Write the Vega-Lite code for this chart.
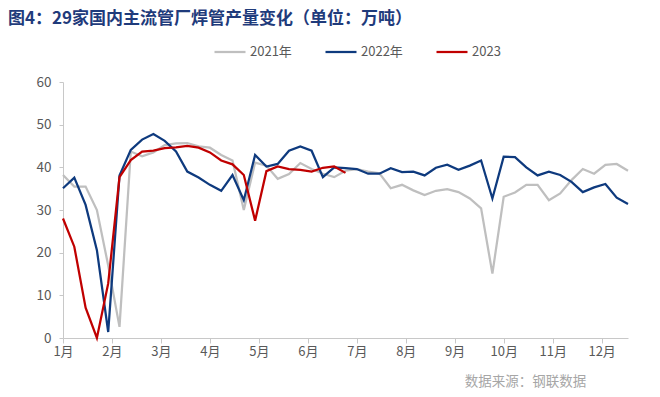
{
  "$schema": "https://vega.github.io/schema/vega-lite/v6.json",
  "width": 565,
  "height": 256,
  "autosize": {"type": "none"},
  "padding": {"left": 63, "top": 82, "right": 32, "bottom": 59},
  "background": "white",
  "title": {
    "text": "图4：29家国内主流管厂焊管产量变化（单位：万吨）",
    "anchor": "start",
    "frame": "group",
    "dx": -55,
    "offset": 7,
    "font": "Noto Sans CJK SC",
    "fontSize": 17,
    "fontWeight": "bold",
    "color": "#1F3B7B"
  },
  "config": {"view": {"stroke": null}, "font": "Noto Sans CJK SC"},
  "data": {
    "values": [
      {"s": "2021年", "w": 0, "v": 38.2}, {"s": "2021年", "w": 1, "v": 35.5}, {"s": "2021年", "w": 2, "v": 35.5}, {"s": "2021年", "w": 3, "v": 30.0},
      {"s": "2021年", "w": 4, "v": 17.0}, {"s": "2021年", "w": 5, "v": 2.6}, {"s": "2021年", "w": 6, "v": 43.7}, {"s": "2021年", "w": 7, "v": 42.6},
      {"s": "2021年", "w": 8, "v": 43.5}, {"s": "2021年", "w": 9, "v": 45.2}, {"s": "2021年", "w": 10, "v": 45.6}, {"s": "2021年", "w": 11, "v": 45.7},
      {"s": "2021年", "w": 12, "v": 44.9}, {"s": "2021年", "w": 13, "v": 44.6}, {"s": "2021年", "w": 14, "v": 42.9}, {"s": "2021年", "w": 15, "v": 41.6},
      {"s": "2021年", "w": 16, "v": 30.0}, {"s": "2021年", "w": 17, "v": 41.1}, {"s": "2021年", "w": 18, "v": 40.4}, {"s": "2021年", "w": 19, "v": 37.3},
      {"s": "2021年", "w": 20, "v": 38.4}, {"s": "2021年", "w": 21, "v": 41.0}, {"s": "2021年", "w": 22, "v": 39.6}, {"s": "2021年", "w": 23, "v": 38.5},
      {"s": "2021年", "w": 24, "v": 37.7}, {"s": "2021年", "w": 25, "v": 39.2}, {"s": "2021年", "w": 26, "v": 39.6}, {"s": "2021年", "w": 27, "v": 39.0},
      {"s": "2021年", "w": 28, "v": 38.6}, {"s": "2021年", "w": 29, "v": 35.1}, {"s": "2021年", "w": 30, "v": 35.9}, {"s": "2021年", "w": 31, "v": 34.6},
      {"s": "2021年", "w": 32, "v": 33.5}, {"s": "2021年", "w": 33, "v": 34.5}, {"s": "2021年", "w": 34, "v": 34.9}, {"s": "2021年", "w": 35, "v": 34.2},
      {"s": "2021年", "w": 36, "v": 32.7}, {"s": "2021年", "w": 37, "v": 30.4}, {"s": "2021年", "w": 38, "v": 15.1}, {"s": "2021年", "w": 39, "v": 33.1},
      {"s": "2021年", "w": 40, "v": 34.1}, {"s": "2021年", "w": 41, "v": 35.9}, {"s": "2021年", "w": 42, "v": 35.9}, {"s": "2021年", "w": 43, "v": 32.3},
      {"s": "2021年", "w": 44, "v": 33.9}, {"s": "2021年", "w": 45, "v": 37.0}, {"s": "2021年", "w": 46, "v": 39.6}, {"s": "2021年", "w": 47, "v": 38.5},
      {"s": "2021年", "w": 48, "v": 40.6}, {"s": "2021年", "w": 49, "v": 40.8}, {"s": "2021年", "w": 50, "v": 39.2},
      {"s": "2022年", "w": 0, "v": 35.1}, {"s": "2022年", "w": 1, "v": 37.6}, {"s": "2022年", "w": 2, "v": 31.2}, {"s": "2022年", "w": 3, "v": 20.6},
      {"s": "2022年", "w": 4, "v": 1.4}, {"s": "2022年", "w": 5, "v": 38.1}, {"s": "2022年", "w": 6, "v": 44.1}, {"s": "2022年", "w": 7, "v": 46.5},
      {"s": "2022年", "w": 8, "v": 47.8}, {"s": "2022年", "w": 9, "v": 46.2}, {"s": "2022年", "w": 10, "v": 43.7}, {"s": "2022年", "w": 11, "v": 39.0},
      {"s": "2022年", "w": 12, "v": 37.6}, {"s": "2022年", "w": 13, "v": 35.9}, {"s": "2022年", "w": 14, "v": 34.5}, {"s": "2022年", "w": 15, "v": 38.2},
      {"s": "2022年", "w": 16, "v": 32.3}, {"s": "2022年", "w": 17, "v": 42.9}, {"s": "2022年", "w": 18, "v": 40.2}, {"s": "2022年", "w": 19, "v": 40.8},
      {"s": "2022年", "w": 20, "v": 43.9}, {"s": "2022年", "w": 21, "v": 44.9}, {"s": "2022年", "w": 22, "v": 43.9}, {"s": "2022年", "w": 23, "v": 37.7},
      {"s": "2022年", "w": 24, "v": 40.0}, {"s": "2022年", "w": 25, "v": 39.8}, {"s": "2022年", "w": 26, "v": 39.6}, {"s": "2022年", "w": 27, "v": 38.5},
      {"s": "2022年", "w": 28, "v": 38.5}, {"s": "2022年", "w": 29, "v": 39.8}, {"s": "2022年", "w": 30, "v": 38.9}, {"s": "2022年", "w": 31, "v": 39.0},
      {"s": "2022年", "w": 32, "v": 38.1}, {"s": "2022年", "w": 33, "v": 39.9}, {"s": "2022年", "w": 34, "v": 40.6}, {"s": "2022年", "w": 35, "v": 39.4},
      {"s": "2022年", "w": 36, "v": 40.4}, {"s": "2022年", "w": 37, "v": 41.6}, {"s": "2022年", "w": 38, "v": 32.7}, {"s": "2022年", "w": 39, "v": 42.5},
      {"s": "2022年", "w": 40, "v": 42.4}, {"s": "2022年", "w": 41, "v": 40.0}, {"s": "2022年", "w": 42, "v": 38.1}, {"s": "2022年", "w": 43, "v": 39.0},
      {"s": "2022年", "w": 44, "v": 38.2}, {"s": "2022年", "w": 45, "v": 36.6}, {"s": "2022年", "w": 46, "v": 34.2}, {"s": "2022年", "w": 47, "v": 35.3},
      {"s": "2022年", "w": 48, "v": 36.1}, {"s": "2022年", "w": 49, "v": 32.9}, {"s": "2022年", "w": 50, "v": 31.4},
      {"s": "2023", "w": 0, "v": 28.0}, {"s": "2023", "w": 1, "v": 21.4}, {"s": "2023", "w": 2, "v": 7.1}, {"s": "2023", "w": 3, "v": 0},
      {"s": "2023", "w": 4, "v": 12.8}, {"s": "2023", "w": 5, "v": 37.7}, {"s": "2023", "w": 6, "v": 41.7}, {"s": "2023", "w": 7, "v": 43.7},
      {"s": "2023", "w": 8, "v": 43.9}, {"s": "2023", "w": 9, "v": 44.5}, {"s": "2023", "w": 10, "v": 44.7}, {"s": "2023", "w": 11, "v": 45.0},
      {"s": "2023", "w": 12, "v": 44.6}, {"s": "2023", "w": 13, "v": 43.5}, {"s": "2023", "w": 14, "v": 41.6}, {"s": "2023", "w": 15, "v": 40.7},
      {"s": "2023", "w": 16, "v": 38.2}, {"s": "2023", "w": 17, "v": 27.5}, {"s": "2023", "w": 18, "v": 39.1}, {"s": "2023", "w": 19, "v": 40.2},
      {"s": "2023", "w": 20, "v": 39.6}, {"s": "2023", "w": 21, "v": 39.4}, {"s": "2023", "w": 22, "v": 39.0}, {"s": "2023", "w": 23, "v": 39.9},
      {"s": "2023", "w": 24, "v": 40.2}, {"s": "2023", "w": 25, "v": 38.7}
    ]
  },
  "mark": {"type": "line", "strokeWidth": 2.25, "clip": false},
  "encoding": {
    "x": {
      "field": "w",
      "type": "quantitative",
      "scale": {"domain": [0, 50], "nice": false, "zero": false},
      "axis": {
        "values": [0, 4.3333, 8.6667, 13, 17.3333, 21.6667, 26, 30.3333, 34.6667, 39, 43.3333, 47.6667],
        "labelExpr": "round(datum.value*12/52)+1 + '月'",
        "grid": false,
        "domainColor": "#C8C8C8",
        "tickColor": "#C8C8C8",
        "tickSize": 5,
        "labelColor": "#595959",
        "labelFontSize": 13,
        "labelPadding": 2,
        "labelFlush": false,
        "labelOverlap": false,
        "title": "数据来源：钢联数据",
        "titleX": 462,
        "titleY": 43,
        "titleAlign": "center",
        "titleBaseline": "middle",
        "titleFontSize": 13.5,
        "titleFontWeight": "normal",
        "titleColor": "#A6A6A6"
      }
    },
    "y": {
      "field": "v",
      "type": "quantitative",
      "scale": {"domain": [0, 60], "nice": false},
      "axis": {
        "values": [0, 10, 20, 30, 40, 50, 60],
        "grid": false,
        "domainColor": "#C8C8C8",
        "tickColor": "#C8C8C8",
        "tickSize": 4,
        "labelColor": "#595959",
        "labelFontSize": 13.5,
        "labelPadding": 8,
        "title": null
      }
    },
    "color": {
      "field": "s",
      "type": "nominal",
      "scale": {"domain": ["2021年", "2022年", "2023"], "range": ["#BFBFBF", "#0E3A7E", "#C00000"]},
      "legend": {
        "orient": "none",
        "legendX": 150,
        "legendY": -47,
        "direction": "horizontal",
        "title": null,
        "symbolType": "stroke",
        "symbolSize": 961,
        "symbolStrokeWidth": 2.25,
        "labelFontSize": 13,
        "labelColor": "#595959",
        "labelOffset": 3,
        "columnPadding": 29,
        "padding": 0
      }
    }
  }
}
